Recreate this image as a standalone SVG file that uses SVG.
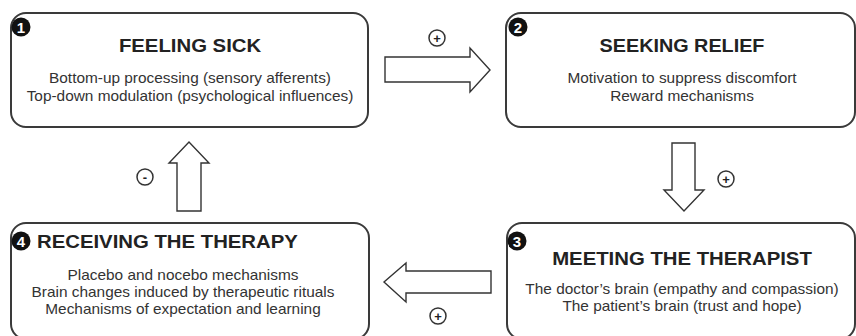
<svg xmlns="http://www.w3.org/2000/svg" width="856" height="336" viewBox="0 0 856 336">
<style>
.box{fill:#fff;stroke:#3a3a3a;stroke-width:2}
.badge{fill:#111}
.num{font-family:"Liberation Sans",Arial,sans-serif;font-weight:bold;font-size:15px;fill:#fff;text-anchor:middle}
.title{font-family:"Liberation Sans",Arial,sans-serif;font-weight:bold;font-size:18px;fill:#222;text-anchor:middle}
.body{font-family:"Liberation Sans",Arial,sans-serif;font-size:14px;fill:#333;text-anchor:middle}
.arrow{fill:#fff;stroke:#333;stroke-width:1.4;stroke-linejoin:miter}
.sign{fill:#fff;stroke:#333;stroke-width:1.5}
.signt{font-family:"Liberation Sans",Arial,sans-serif;font-weight:bold;font-size:13px;fill:#222;text-anchor:middle}
</style>
<rect width="856" height="336" fill="#fff"/>
<g id="node1">
<rect class="box" x="11" y="13" width="357" height="114" rx="15"/>
<circle class="badge" cx="21" cy="27" r="9.5"/>
<text class="num" x="21" y="32.5">1</text>
<g transform="translate(190 0) scale(1.13 1)"><text class="title" x="0" y="52">FEELING SICK</text></g>
<g transform="translate(190 0) scale(1.1 1)">
<text class="body" x="0" y="83">Bottom-up processing (sensory afferents)</text>
<text class="body" x="0" y="101">Top-down modulation (psychological influences)</text>
</g>
</g>
<g id="node2">
<rect class="box" x="506" y="13" width="349" height="114" rx="15"/>
<circle class="badge" cx="518" cy="27" r="9.5"/>
<text class="num" x="518" y="32.5">2</text>
<g transform="translate(682 0) scale(1.1 1)"><text class="title" x="0" y="52">SEEKING RELIEF</text></g>
<g transform="translate(682 0) scale(1.1 1)">
<text class="body" x="0" y="83">Motivation to suppress discomfort</text>
<text class="body" x="0" y="101">Reward mechanisms</text>
</g>
</g>
<g id="node3">
<rect class="box" x="507" y="223" width="348" height="116" rx="15"/>
<circle class="badge" cx="517" cy="241" r="9.5"/>
<text class="num" x="517" y="246.5">3</text>
<g transform="translate(682 0) scale(1.13 1)"><text class="title" x="0" y="265">MEETING THE THERAPIST</text></g>
<g transform="translate(682 0) scale(1.1 1)">
<text class="body" x="0" y="294">The doctor’s brain (empathy and compassion)</text>
<text class="body" x="0" y="311">The patient’s brain (trust and hope)</text>
</g>
</g>
<g id="node4">
<rect class="box" x="11" y="223" width="358" height="116" rx="15"/>
<circle class="badge" cx="21" cy="241" r="9.5"/>
<text class="num" x="21" y="246.5">4</text>
<g transform="translate(37 0) scale(1.13 1)"><text class="title" x="0" y="248" style="text-anchor:start">RECEIVING THE THERAPY</text></g>
<g transform="translate(183 0) scale(1.1 1)">
<text class="body" x="0" y="280">Placebo and nocebo mechanisms</text>
<text class="body" x="0" y="297">Brain changes induced by therapeutic rituals</text>
<text class="body" x="0" y="314">Mechanisms of expectation and learning</text>
</g>
</g>
<g id="connectors">
<polygon class="arrow" points="385,57 470,57 470,48 490,70 470,92 470,82 385,82"/>
<circle class="sign" cx="437" cy="38" r="8"/>
<text class="signt" x="437" y="42.5">+</text>
<polygon class="arrow" points="672,143 695,143 695,190 704,190 684,211 664,190 672,190"/>
<circle class="sign" cx="726" cy="179" r="8"/>
<text class="signt" x="726" y="183.5">+</text>
<polygon class="arrow" points="491,271 406,271 406,263 384,282 406,302 406,293 491,293"/>
<circle class="sign" cx="438" cy="316" r="8"/>
<text class="signt" x="438" y="320.5">+</text>
<polygon class="arrow" points="177,211 177,163 169,163 189,142 209,163 201,163 201,211"/>
<circle class="sign" cx="145" cy="177" r="8"/>
<text class="signt" x="145" y="181.5">-</text>
</g>
</svg>
